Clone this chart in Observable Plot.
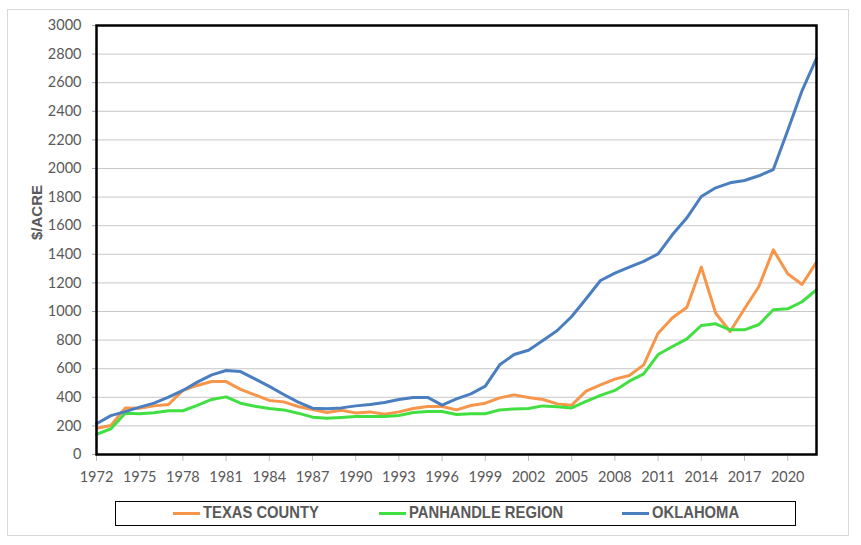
<!DOCTYPE html>
<html>
<head>
<meta charset="utf-8">
<script src="https://cdn.jsdelivr.net/npm/d3@7"></script>
<script src="https://cdn.jsdelivr.net/npm/@observablehq/plot@0.6"></script>
<style>
  html, body { margin: 0; padding: 0; background: #fff; }
  #wrap { position: relative; width: 861px; height: 545px; overflow: hidden; }
  #border { position: absolute; left: 7px; top: 9px; width: 842px; height: 527px; border: 1px solid #d9d9d9; box-sizing: border-box; }
  #chart { position: absolute; left: 0; top: 0; }
  #legend { position: absolute; left: 115px; top: 501px; width: 681px; height: 25px; border: 1.5px solid #000; box-sizing: border-box; }
  .item { position: absolute; top: 0; height: 22px; display: flex; align-items: center;
          font-family: "Liberation Sans", Arial, sans-serif;
          font-weight: bold; font-size: 17px; color: #595959; white-space: nowrap; }
  .swatch { display: inline-block; width: 27px; height: 3px; margin-right: 3px; }
  .label { display: inline-block; transform: scaleX(0.87); transform-origin: left center; }
</style>
</head>
<body>
<div id="wrap">
  <div id="border"></div>
  <div id="chart"></div>
  <div id="legend"></div>
</div>
<script>
const years = [1972,1973,1974,1975,1976,1977,1978,1979,1980,1981,1982,1983,1984,1985,1986,1987,1988,1989,
  1990,1991,1992,1993,1994,1995,1996,1997,1998,1999,2000,2001,2002,2003,2004,
  2005,2006,2007,2008,2009,2010,2011,2012,2013,2014,2015,2016,2017,2018,2019,2020,2021,2022];

const texasCounty = [184,203,326,324,340,350,448,483,510,510,455,417,378,368,336,315,294,310,
  291,298,282,298,322,336,336,312,343,359,396,417,399,385,354,
  345,443,487,527,552,627,848,956,1030,1310,988,860,1019,1175,1431,1264,1189,1345];

const panhandleRegion = [140,180,289,285,292,306,306,343,385,403,359,338,322,312,289,261,254,259,
  266,266,266,273,294,301,301,280,285,285,312,319,322,340,334,
  326,371,413,448,513,564,699,755,809,902,914,872,872,909,1012,1019,1068,1152];

const oklahoma = [215,272,300,331,359,401,448,506,557,587,580,529,476,420,366,324,320,326,
  340,350,364,385,399,399,345,389,424,478,627,699,729,797,867,
  965,1089,1217,1268,1310,1350,1403,1538,1655,1804,1865,1900,1916,1949,1993,2266,2545,2771];

const xTicks = [1972,1975,1978,1981,1984,1987,1990,1993,1996,1999,2002,2005,2008,2011,2014,2017,2020];
const yTicks = [0,200,400,600,800,1000,1200,1400,1600,1800,2000,2200,2400,2600,2800,3000];

const seriesNames = ["TEXAS COUNTY", "PANHANDLE REGION", "OKLAHOMA"];
const seriesColors = ["#f7964a", "#42df42", "#4a7ebf"];
const seriesValues = [texasCounty, panhandleRegion, oklahoma];

const rows = [];
seriesNames.forEach((name, s) => {
  years.forEach((yr, i) => rows.push({series: name, year: yr, value: seriesValues[s][i]}));
});

const chart = Plot.plot({
  width: 861,
  height: 500,
  marginLeft: 96,
  marginRight: 45,
  marginTop: 25,
  marginBottom: 46,
  style: { fontFamily: "Lato, 'Liberation Sans', sans-serif", fontSize: "14.5px", color: "#595959", background: "transparent" },
  x: { domain: [1972, 2022], axis: null },
  y: { domain: [0, 3000], axis: null },
  color: { domain: seriesNames, range: seriesColors },
  marks: [
    Plot.gridY(yTicks.filter(d => d > 0), { stroke: "#c8c8c8", strokeOpacity: 1, strokeWidth: 1 }),
    Plot.axisY(yTicks, { tickSize: 4, tickPadding: 11, tickFormat: "d", stroke: "#a6a6a6", fill: "#595959", label: null }),
    Plot.axisX(xTicks, { tickSize: 7, tickPadding: 10, tickFormat: "d", stroke: "#bfbfbf", fill: "#595959", label: null }),
    Plot.line(rows, { x: "year", y: "value", z: "series", stroke: "series", strokeWidth: 3, strokeLinejoin: "round" }),
    Plot.frame({ stroke: "#000", strokeWidth: 2.5 }),
    Plot.text(["$/ACRE"], { frameAnchor: "left", dx: -59, rotate: -90, fontWeight: "bold", fontSize: 15, fill: "#595959", fontFamily: "'Liberation Sans', sans-serif" })
  ]
});
document.getElementById("chart").appendChild(chart);

const legendLeft = [57, 263, 506];
const legend = document.getElementById("legend");
seriesNames.forEach((name, i) => {
  const it = document.createElement("div");
  it.className = "item";
  it.style.left = legendLeft[i] + "px";
  const sw = document.createElement("span");
  sw.className = "swatch";
  sw.style.background = seriesColors[i];
  it.appendChild(sw);
  const lb = document.createElement("span");
  lb.className = "label";
  lb.textContent = name;
  it.appendChild(lb);
  legend.appendChild(it);
});
</script>
</body>
</html>
